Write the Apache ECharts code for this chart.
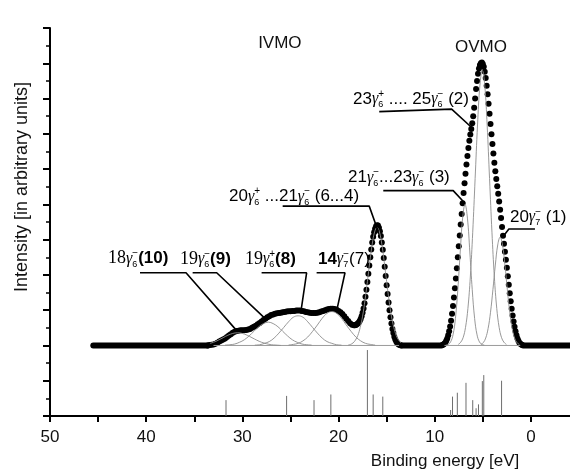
<!DOCTYPE html>
<html lang="en">
<head>
<meta charset="UTF-8">
<title>Valence band spectrum</title>
<script src="https://cdn.jsdelivr.net/npm/echarts@6/dist/echarts.min.js"></script>
<style>
    *{margin:0;padding:0;}
    html,body{width:100%;height:100%;overflow:hidden;background:#fff;}
    .container{width:570px;height:470px;}
</style>
</head>
<body>
<div class="container"></div>
<script>
// measured spectrum (binding energy eV, intensity)
const baseLevel = 2.0;
const flatRuns = [[45.5, 33.6], [13.4, 9.3], [0.8, -4.1]];
const measuredIVMO = [
    [33.6,2.0],[33.4,2.01],[33.2,2.02],[33.0,2.03],[32.8,2.05],[32.6,2.08],[32.4,2.11],[32.2,2.14],[32.0,2.17],[31.8,2.2],
    [31.6,2.24],[31.4,2.28],[31.2,2.32],[31.0,2.36],[30.8,2.39],[30.6,2.41],[30.4,2.42],[30.2,2.43],[30.0,2.43],[29.8,2.43],
    [29.6,2.44],[29.4,2.45],[29.2,2.47],[29.0,2.5],[28.8,2.53],[28.6,2.56],[28.4,2.6],[28.2,2.64],[28.0,2.68],[27.8,2.72],
    [27.6,2.76],[27.4,2.8],[27.2,2.83],[27.0,2.86],[26.8,2.88],[26.6,2.9],[26.4,2.91],[26.2,2.92],[26.0,2.93],[25.8,2.94],
    [25.6,2.95],[25.4,2.96],[25.2,2.97],[25.0,2.97],[24.8,2.98],[24.6,2.98],[24.4,2.99],[24.2,2.99],[24.0,2.99],[23.8,2.98],
    [23.6,2.97],[23.4,2.95],[23.2,2.94],[23.0,2.93],[22.8,2.92],[22.6,2.92],[22.4,2.92],[22.2,2.93],[22.0,2.94],[21.8,2.96],
    [21.6,2.98],[21.4,3.0],[21.2,3.02],[21.0,3.03],[20.8,3.04],[20.6,3.04],[20.4,3.03],[20.2,3.01],[20.0,2.98],[19.8,2.94],
    [19.6,2.89],[19.4,2.83],[19.2,2.76],[19.0,2.69],[18.8,2.63],[18.6,2.59],[18.4,2.57]
];
const measuredPeak16 = [
    [18.3,2.57],[18.2,2.58],[18.1,2.6],[18.0,2.62],[17.9,2.65],[17.8,2.69],[17.7,2.75],[17.6,2.83],[17.5,2.93],[17.4,3.05],
    [17.3,3.2],[17.2,3.38],[17.1,3.58],[17.0,3.8],[16.9,4.03],[16.8,4.27],[16.7,4.5],[16.6,4.72],[16.5,4.92],[16.4,5.08],
    [16.3,5.21],[16.2,5.31],[16.1,5.38],[16.0,5.41],[15.9,5.4],[15.8,5.34],[15.7,5.24],[15.6,5.1],[15.5,4.92],[15.4,4.71],
    [15.3,4.48],[15.2,4.23],[15.1,3.97],[15.0,3.71],[14.9,3.46],[14.8,3.22],[14.7,3.0],[14.6,2.8],[14.5,2.62],[14.4,2.47],
    [14.3,2.35],[14.2,2.25],[14.1,2.17],[14.0,2.11],[13.9,2.07],[13.8,2.04],[13.7,2.02],[13.6,2.01],[13.5,2.0]
];
const measuredOVMO = [
    [9.2,2.01],[9.1,2.03],[9.0,2.05],[8.9,2.08],[8.8,2.13],[8.7,2.2],[8.6,2.29],[8.5,2.4],[8.4,2.54],[8.3,2.7],
    [8.2,2.9],[8.1,3.12],[8.0,3.36],[7.9,3.62],[7.8,3.9],[7.7,4.19],[7.6,4.5],[7.5,4.81],[7.4,5.12],[7.3,5.43],
    [7.2,5.73],[7.1,6.03],[7.0,6.32],[6.9,6.6],[6.8,6.87],[6.7,7.13],[6.6,7.37],[6.5,7.6],[6.4,7.8],[6.3,7.98],
    [6.2,8.14],[6.1,8.3],[6.0,8.5],[5.9,8.74],[5.8,9.0],[5.7,9.27],[5.6,9.5],[5.5,9.7],[5.4,9.85],[5.3,9.95],
    [5.2,10.0],[5.1,10.02],[5.0,9.98],[4.9,9.9],[4.8,9.76],[4.7,9.58],[4.6,9.36],[4.5,9.12],[4.4,8.85],[4.3,8.57],
    [4.2,8.28],[4.1,7.99],[4.0,7.71],[3.9,7.44],[3.8,7.18],[3.7,6.94],[3.6,6.72],[3.5,6.51],[3.4,6.3],[3.3,6.08],
    [3.2,5.85],[3.1,5.61],[3.0,5.36],[2.9,5.11],[2.8,4.88],[2.7,4.66],[2.6,4.43],[2.5,4.2],[2.4,3.96],[2.3,3.72],
    [2.2,3.48],[2.1,3.25],[2.0,3.04],[1.9,2.85],[1.8,2.68],[1.7,2.53],[1.6,2.4],[1.5,2.29],[1.4,2.2],[1.3,2.13],
    [1.2,2.08],[1.1,2.05],[1.0,2.03],[0.9,2.01]
];

// fitted components (thin grey curves)
const fitBaseline = [[33.0,2.0],[-5,2.0]];
const comp10 = [[35,2.0],[34.5,2.01],[34,2.02],[33.5,2.05],[33,2.09],[32.5,2.15],[32,2.22],[31.5,2.29],[31,2.34],[30.5,2.36],
    [30,2.34],[29.5,2.29],[29,2.22],[28.5,2.15],[28,2.09],[27.5,2.05],[27,2.02],[26.5,2.01],[26,2.0]];
const comp9 = [[31.8,2.01],[31.3,2.02],[30.8,2.04],[30.3,2.09],[29.8,2.16],[29.3,2.27],[28.8,2.4],[28.3,2.53],[27.8,2.62],[27.3,2.66],
    [26.8,2.62],[26.3,2.53],[25.8,2.4],[25.3,2.27],[24.8,2.16],[24.3,2.09],[23.8,2.04],[23.3,2.02],[22.8,2.01]];
const comp8 = [[28.7,2.01],[28.2,2.02],[27.7,2.06],[27.2,2.11],[26.7,2.21],[26.2,2.35],[25.7,2.51],[25.2,2.67],[24.7,2.8],[24.2,2.84],
    [23.7,2.8],[23.2,2.67],[22.7,2.51],[22.2,2.35],[21.7,2.21],[21.2,2.11],[20.7,2.06],[20.2,2.02],[19.7,2.01]];
const comp7 = [[25.2,2.01],[24.7,2.03],[24.2,2.06],[23.7,2.13],[23.2,2.24],[22.7,2.4],[22.2,2.58],[21.7,2.77],[21.2,2.91],[20.7,2.96],
    [20.2,2.91],[19.7,2.77],[19.2,2.58],[18.7,2.4],[18.2,2.24],[17.7,2.13],[17.2,2.06],[16.7,2.03],[16.2,2.01]];
const comp16 = [[19.0,2.01],[18.75,2.03],[18.5,2.07],[18.25,2.15],[18.0,2.28],[17.75,2.51],[17.5,2.83],[17.25,3.28],[17.0,3.81],
    [16.75,4.37],[16.5,4.87],[16.25,5.22],[16.0,5.35],[15.75,5.22],[15.5,4.87],[15.25,4.37],[15.0,3.81],[14.75,3.28],[14.5,2.83],
    [14.25,2.51],[14.0,2.28],[13.75,2.15],[13.5,2.07],[13.25,2.03],[13.0,2.01]];
const comp3 = [[8.85,2.01],[8.6,2.03],[8.35,2.1],[8.1,2.3],[7.85,2.76],[7.6,3.58],[7.35,4.65],[7.1,5.61],[6.85,6.0],
    [6.6,5.61],[6.35,4.65],[6.1,3.58],[5.85,2.76],[5.6,2.3],[5.35,2.1],[5.1,2.03],[4.85,2.01]];
const comp2 = [[7.55,2.03],[7.3,2.09],[7.05,2.22],[6.8,2.51],[6.55,3.05],[6.3,3.94],[6.05,5.21],[5.8,6.73],[5.55,8.25],[5.3,9.38],
    [5.05,9.8],[4.8,9.38],[4.55,8.25],[4.3,6.73],[4.05,5.21],[3.8,3.94],[3.55,3.05],[3.3,2.51],[3.05,2.22],[2.8,2.09],[2.55,2.03]];
const comp1 = [[5.2,2.03],[4.95,2.08],[4.7,2.21],[4.45,2.48],[4.2,2.94],[3.95,3.58],[3.7,4.28],[3.45,4.85],[3.2,5.07],
    [2.95,4.85],[2.7,4.28],[2.45,3.58],[2.2,2.94],[1.95,2.48],[1.7,2.21],[1.45,2.08],[1.2,2.03]];
const components = [comp10, comp9, comp8, comp7, comp16, comp3, comp2, comp1];

// calculated levels (stick spectrum)
const stickEnergy = [31.7, 25.4, 22.55, 20.8, 17.0, 16.4, 15.4, 8.35, 8.15, 7.65, 6.75, 6.05, 5.7, 5.45, 5.05, 4.9, 3.05];
const stickHeight = [0.45, 0.57, 0.45, 0.61, 1.87, 0.61, 0.55, 0.17, 0.55, 0.66, 0.94, 0.45, 0.22, 0.33, 0.99, 1.16, 1.0];

// level labels: rich text, left-middle anchor, leader polyline
const labelText = [
    '{n|20}{g|γ}{sb|7}{sp|−}{n| (1)}',
    '{n|23}{g|γ}{sb|6}{sp|+}{n| .... 25}{g|γ}{sb|6}{sp|−}{n| (2)}',
    '{n|21}{g|γ}{sb|6}{sp|−}{n|...23}{g|γ}{sb|6}{sp|−}{n| (3)}',
    '{n|20}{g|γ}{sb|6}{sp|+}{n| ...21}{g|γ}{sb|6}{sp|−}{n| (6...4)}',
    '{gs|18}{g|γ}{sb|6}{sp|−}{b|(10)}',
    '{gs|19}{g|γ}{sb|6}{sp|−}{b|(9)}',
    '{gs|19}{g|γ}{sb|6}{sp|+}{b|(8)}',
    '{b|14}{g|γ}{sb|7}{sp|−}{n|(7)}'
];
const labelAnchor = [[2.18,5.64],[18.5,8.99],[19.02,6.76],[31.39,6.22],[43.97,4.46],[36.49,4.45],[29.73,4.45],[22.14,4.45]];
const leaders = [
    [[-0.42,5.30],[2.29,5.30],[2.91,5.08]],
    [[15.77,8.63],[8.24,8.70],[6.16,8.18]],
    [[15.35,6.39],[8.08,6.39],[6.86,6.03]],
    [[25.81,5.95],[16.81,5.95],[15.87,5.23]],
    [[40.64,4.06],[35.86,4.06],[30.59,2.42]],
    [[35.17,4.06],[32.67,4.06],[27.65,2.77]],
    [[28.0,4.06],[23.32,4.06],[23.94,2.91]],
    [[22.28,4.06],[19.33,4.06],[20.14,3.05]]
];
const bandNames = ['IVMO', 'OVMO'];
const bandAnchor = [[26.1,10.58],[5.2,10.46]];

window.onload = function () {
    const chart = echarts.init(document.querySelector('.container'), null, {renderer: 'canvas'});
    const sans = 'Liberation Sans, Arial, sans-serif';
    const serif = 'Liberation Serif, Times New Roman, serif';

    let series = [];
    series.push({type: 'line', data: fitBaseline, showSymbol: false, silent: true,
        lineStyle: {color: '#9a9a9a', width: 1}});
    components.forEach(c => {
        series.push({type: 'line', data: c, smooth: 0.4, showSymbol: false, silent: true,
            lineStyle: {color: '#8c8c8c', width: 0.9}});
    });
    flatRuns.forEach(r => {
        series.push({type: 'line', data: [[r[0], baseLevel], [r[1], baseLevel]], showSymbol: false, silent: true,
            lineStyle: {color: '#000', width: 6, cap: 'round'}});
    });
    series.push({type: 'scatter', data: measuredIVMO.concat(measuredPeak16, measuredOVMO), symbolSize: 6,
        itemStyle: {color: '#000', opacity: 1}, silent: true});
    series.push({
        type: 'custom', silent: true,
        data: stickEnergy.map((e, i) => [e, stickHeight[i]]),
        renderItem: function (params, api) {
            const top = api.coord([api.value(0), api.value(1)]);
            const bot = api.coord([api.value(0), 0]);
            return {type: 'line', shape: {x1: top[0], y1: top[1], x2: bot[0], y2: bot[1]},
                style: {stroke: '#6e6e6e', lineWidth: 1}};
        }
    });
    leaders.forEach(l => {
        series.push({type: 'line', data: l, showSymbol: false, silent: true,
            lineStyle: {color: '#000', width: 1.6}});
    });

    chart.setOption({
        animation: false,
        backgroundColor: '#fff',
        grid: {left: 50, right: -9, top: 28, bottom: 54, outerBoundsMode: 'none', containLabel: false},
        xAxis: {
            type: 'value', min: -5, max: 50, interval: 5, inverse: true,
            axisLine: {onZero: false, lineStyle: {color: '#000', width: 2}},
            axisTick: {length: 6, lineStyle: {color: '#000', width: 2}},
            axisLabel: {color: '#111', fontFamily: sans, fontSize: 17, margin: 13,
                formatter: v => (v % 10 === 0 && v >= 0) ? String(v) : ''},
            splitLine: {show: false}
        },
        yAxis: {
            type: 'value', min: 0, max: 11, interval: 1,
            axisLine: {show: true, onZero: false, lineStyle: {color: '#000', width: 2}},
            axisTick: {show: true, length: 7, lineStyle: {color: '#000', width: 2}},
            minorTick: {show: true, splitNumber: 2, length: 4, lineStyle: {color: '#000', width: 1.5}},
            axisLabel: {show: false},
            splitLine: {show: false}
        },
        series
    });

    const px = p => chart.convertToPixel({xAxisIndex: 0, yAxisIndex: 0}, p);
    const rich = {
        n: {fontFamily: sans, fontSize: 17, color: '#111', lineHeight: 20},
        b: {fontFamily: sans, fontSize: 17, fontWeight: 'bold', color: '#111', lineHeight: 20},
        gs: {fontFamily: serif, fontSize: 18, color: '#8c8c8c', lineHeight: 20},
        g: {fontFamily: serif, fontSize: 16, fontStyle: 'italic', color: '#8c8c8c', lineHeight: 20},
        sb: {fontFamily: sans, fontSize: 9, color: '#8c8c8c', verticalAlign: 'bottom', width: 0},
        sp: {fontFamily: sans, fontSize: 10, color: '#8c8c8c', verticalAlign: 'top'}
    };
    let graphic = [];
    labelText.forEach((t, i) => {
        const p = px(labelAnchor[i]);
        graphic.push({type: 'text', x: p[0], y: p[1], silent: true,
            style: {text: t, rich, align: 'left', verticalAlign: 'middle'}});
    });
    bandNames.forEach((t, i) => {
        const p = px(bandAnchor[i]);
        graphic.push({type: 'text', x: p[0], y: p[1], silent: true,
            style: {text: t, font: '17px ' + sans, fill: '#111', align: 'center', verticalAlign: 'middle'}});
    });
    // axis titles
    graphic.push({type: 'text', x: 22, y: 187, rotation: Math.PI / 2, silent: true,
        style: {text: 'Intensity [in arbitrary units]', font: '18px ' + sans, fill: '#111', align: 'center', verticalAlign: 'middle'}});
    graphic.push({type: 'text', x: 445, y: 461, silent: true,
        style: {text: 'Binding energy [eV]', font: '17px ' + sans, fill: '#111', align: 'center', verticalAlign: 'middle'}});
    chart.setOption({graphic});
};
</script>
</body>
</html>
